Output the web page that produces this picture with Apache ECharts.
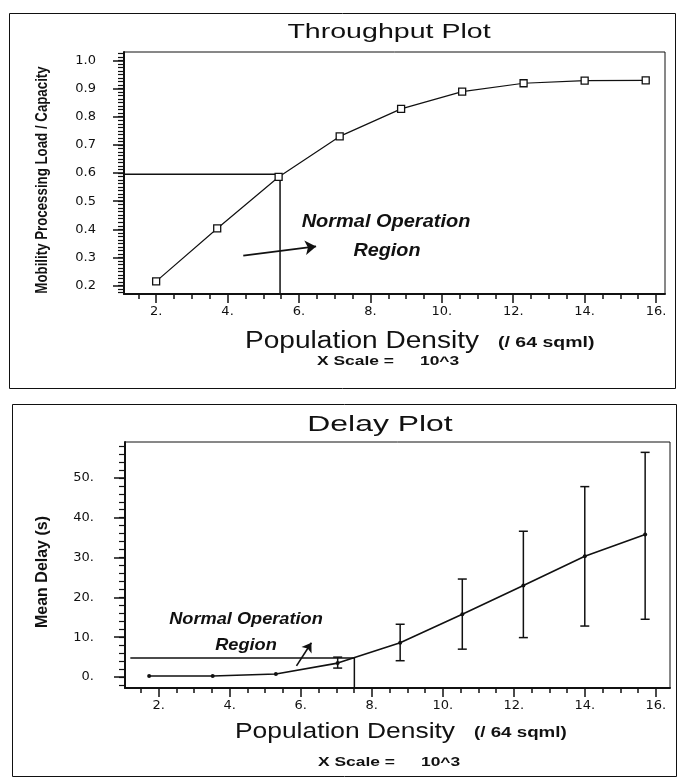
<!DOCTYPE html>
<html>
<head>
<meta charset="utf-8">
<script src="https://cdn.jsdelivr.net/npm/echarts@6/dist/echarts.min.js"></script>
<style>
html, body { margin: 0; padding: 0; background: #fff; }
#main { width: 677px; height: 779px; }
</style>
</head>
<body>
<div id="main"></div>
<script>
// throughput plot
var throughputX = [2.0, 3.71, 5.43, 7.14, 8.86, 10.57, 12.29, 14.0, 15.71];
var throughputY = [0.215, 0.403, 0.586, 0.730, 0.828, 0.889, 0.919, 0.928, 0.929];
var throughputRef = [[1.1, 0.596], [5.47, 0.596], [5.47, 0.17]];
var throughputArrow = [[4.44, 0.306], [6.48, 0.339]];

// delay plot
var delayX = [1.73, 3.52, 5.30, 7.04, 8.80, 10.55, 12.27, 14.0, 15.7];
var delayY = [0.25, 0.25, 0.75, 3.5, 8.6, 15.75, 23.0, 30.3, 35.8];
var delayLow = [null, null, null, 2.25, 4.1, 7.0, 9.9, 12.8, 14.5];
var delayHigh = [null, null, null, 5.0, 13.25, 24.6, 36.6, 47.8, 56.4];
var delayRef = [[1.2, 4.75], [7.51, 4.75], [7.51, -2.75]];
var delayArrow = [[5.88, 2.8], [6.3, 8.6]];

// tick labels
var xLabels = [2, 4, 6, 8, 10, 12, 14, 16];
var yLabelsTop = [0.2, 0.3, 0.4, 0.5, 0.6, 0.7, 0.8, 0.9, 1.0];
var yLabelsBottom = [0, 10, 20, 30, 40, 50];

function steps(from, to, step) {
  var out = [];
  for (var v = from; v <= to + 1e-9; v += step) out.push(+v.toFixed(4));
  return out;
}
var xMinor = steps(1.5, 16, 0.5);
var yMinorTop = steps(0.175, 1.025, 0.0125);
var yMinorBottom = steps(-2, 58, 2);

var FONT = "'Liberation Sans', Arial, sans-serif";
var WIDE = "'DejaVu Sans', 'Liberation Sans', sans-serif";
var INK = '#111';

function xAxisMajor(grid, min, max) {
  return {
    type: 'value', gridIndex: grid, min: min, max: max,
    axisLine: { onZero: false, lineStyle: { color: INK, width: 2 } },
    axisTick: { customValues: xLabels, length: 9, lineStyle: { color: INK, width: 1.5 } },
    axisLabel: { customValues: xLabels, margin: 11, color: INK, fontFamily: WIDE, fontSize: 13,
      formatter: function (v) { return v + '.'; } },
    splitLine: { show: false }
  };
}
function xAxisMinor(grid, min, max) {
  return {
    type: 'value', gridIndex: grid, min: min, max: max, position: 'bottom',
    axisLine: { show: false, onZero: false },
    axisTick: { show: true, customValues: xMinor, length: 5, lineStyle: { color: INK, width: 1.5 } },
    axisLabel: { show: false },
    splitLine: { show: false }
  };
}
function yAxisMajor(grid, min, max, labels, fmt, margin) {
  return {
    type: 'value', gridIndex: grid, min: min, max: max,
    axisLine: { show: true, onZero: false, lineStyle: { color: INK, width: 2 } },
    axisTick: { show: true, customValues: labels, length: 11, lineStyle: { color: INK, width: 1.5 } },
    axisLabel: { customValues: labels, margin: margin, color: INK, fontFamily: WIDE, fontSize: 13, formatter: fmt },
    splitLine: { show: false }
  };
}
function yAxisMinor(grid, min, max, ticks) {
  return {
    type: 'value', gridIndex: grid, min: min, max: max, position: 'left',
    axisLine: { show: false, onZero: false },
    axisTick: { show: true, customValues: ticks, length: 6, lineStyle: { color: INK, width: 1.2 } },
    axisLabel: { show: false },
    splitLine: { show: false }
  };
}

function zip(a, b) { return a.map(function (v, i) { return [v, b[i]]; }); }
var errData = [];
delayX.forEach(function (x, i) {
  if (delayLow[i] != null) errData.push([x, delayLow[i], delayHigh[i]]);
});

function txt(x, y, s, font, sx, align) {
  return { type: 'text', x: x, y: y, scaleX: sx || 1, silent: true,
    style: { text: s, font: font, fill: INK, align: align || 'center', verticalAlign: 'middle' } };
}

var chart = echarts.init(document.getElementById('main'));
var option = {
  backgroundColor: '#fff',
  animation: false,
  grid: [
    { left: 124, top: 52, width: 541, height: 242, show: true, borderColor: INK, borderWidth: 1 },
    { left: 125, top: 442, width: 545, height: 246, show: true, borderColor: INK, borderWidth: 1 }
  ],
  xAxis: [
    xAxisMajor(0, 1.1, 16.25),
    xAxisMinor(0, 1.1, 16.25),
    xAxisMajor(1, 1.05, 16.4),
    xAxisMinor(1, 1.05, 16.4)
  ],
  yAxis: [
    yAxisMajor(0, 0.17, 1.03, yLabelsTop, function (v) { return v.toFixed(1); }, 28),
    yAxisMinor(0, 0.17, 1.03, yMinorTop),
    yAxisMajor(1, -2.75, 59, yLabelsBottom, function (v) { return v + '.'; }, 31),
    yAxisMinor(1, -2.75, 59, yMinorBottom)
  ],
  series: [
    {
      type: 'line', xAxisIndex: 0, yAxisIndex: 0,
      data: zip(throughputX, throughputY),
      symbol: 'rect', symbolSize: 7,
      itemStyle: { color: '#fff', borderColor: INK, borderWidth: 1.3 },
      lineStyle: { color: INK, width: 1.2 }
    },
    {
      type: 'line', xAxisIndex: 0, yAxisIndex: 0,
      data: throughputRef, showSymbol: false,
      lineStyle: { color: INK, width: 1.5 },
      markLine: {
        silent: true, symbol: ['none', 'arrow'], symbolSize: 11,
        label: { show: false },
        lineStyle: { color: INK, width: 1.8, type: 'solid', curveness: -0.1 },
        data: [[{ coord: throughputArrow[0] }, { coord: throughputArrow[1] }]]
      }
    },
    {
      type: 'line', xAxisIndex: 2, yAxisIndex: 2,
      data: zip(delayX, delayY),
      symbol: 'circle', symbolSize: 4,
      itemStyle: { color: INK },
      lineStyle: { color: INK, width: 1.6 }
    },
    {
      type: 'custom', xAxisIndex: 2, yAxisIndex: 2,
      data: errData,
      encode: { x: 0, y: [1, 2] },
      renderItem: function (params, api) {
        var x = api.value(0);
        var lo = api.coord([x, api.value(1)]);
        var hi = api.coord([x, api.value(2)]);
        var w = 4.5;
        var st = { stroke: INK, lineWidth: 1.5 };
        return {
          type: 'group',
          children: [
            { type: 'line', shape: { x1: lo[0], y1: lo[1], x2: hi[0], y2: hi[1] }, style: st },
            { type: 'line', shape: { x1: hi[0] - w, y1: hi[1], x2: hi[0] + w, y2: hi[1] }, style: st },
            { type: 'line', shape: { x1: lo[0] - w, y1: lo[1], x2: lo[0] + w, y2: lo[1] }, style: st }
          ]
        };
      }
    },
    {
      type: 'line', xAxisIndex: 2, yAxisIndex: 2,
      data: delayRef, showSymbol: false,
      lineStyle: { color: INK, width: 1.5 },
      markLine: {
        silent: true, symbol: ['none', 'arrow'], symbolSize: 9,
        label: { show: false },
        lineStyle: { color: INK, width: 1.6, type: 'solid', curveness: 0.4 },
        data: [[{ coord: delayArrow[0] }, { coord: delayArrow[1] }]]
      }
    }
  ],
  graphic: [
    // panel frames
    { type: 'rect', silent: true, shape: { x: 9.5, y: 13.5, width: 666, height: 375 }, style: { fill: 'none', stroke: INK, lineWidth: 1 } },
    { type: 'rect', silent: true, shape: { x: 12.5, y: 404.5, width: 664, height: 372 }, style: { fill: 'none', stroke: INK, lineWidth: 1 } },
    // top panel texts
    txt(389, 32, 'Throughput Plot', '21px ' + FONT, 1.36),
    { type: 'text', x: 43, y: 180, rotation: Math.PI / 2, scaleX: 0.83, silent: true,
      style: { text: 'Mobility Processing Load / Capacity', font: 'bold 16px ' + FONT, fill: INK, align: 'center', verticalAlign: 'middle' } },
    txt(386, 222, 'Normal Operation', 'italic bold 18px ' + FONT, 1.11),
    txt(387, 251, 'Region', 'italic bold 18px ' + FONT, 1.1),
    txt(362, 342, 'Population Density', '23px ' + FONT, 1.22),
    txt(498, 343, '(/ 64 sqml)', 'bold 15px ' + FONT, 1.3, 'left'),
    txt(317, 362, 'X Scale =', 'bold 12px ' + FONT, 1.45, 'left'),
    txt(420, 362, '10^3', 'bold 12px ' + FONT, 1.45, 'left'),
    // bottom panel texts
    txt(380, 425, 'Delay Plot', '22px ' + FONT, 1.45),
    { type: 'text', x: 43, y: 572, rotation: Math.PI / 2, silent: true,
      style: { text: 'Mean Delay (s)', font: 'bold 16px ' + FONT, fill: INK, align: 'center', verticalAlign: 'middle' } },
    txt(246, 619, 'Normal Operation', 'italic bold 17px ' + FONT, 1.07),
    txt(246, 645, 'Region', 'italic bold 17px ' + FONT, 1.07),
    txt(345, 732, 'Population Density', '22px ' + FONT, 1.2),
    txt(474, 733, '(/ 64 sqml)', 'bold 15px ' + FONT, 1.25, 'left'),
    txt(318, 763, 'X Scale =', 'bold 12px ' + FONT, 1.45, 'left'),
    txt(421, 763, '10^3', 'bold 12px ' + FONT, 1.45, 'left')
  ]
};
chart.setOption(option);
</script>
</body>
</html>
